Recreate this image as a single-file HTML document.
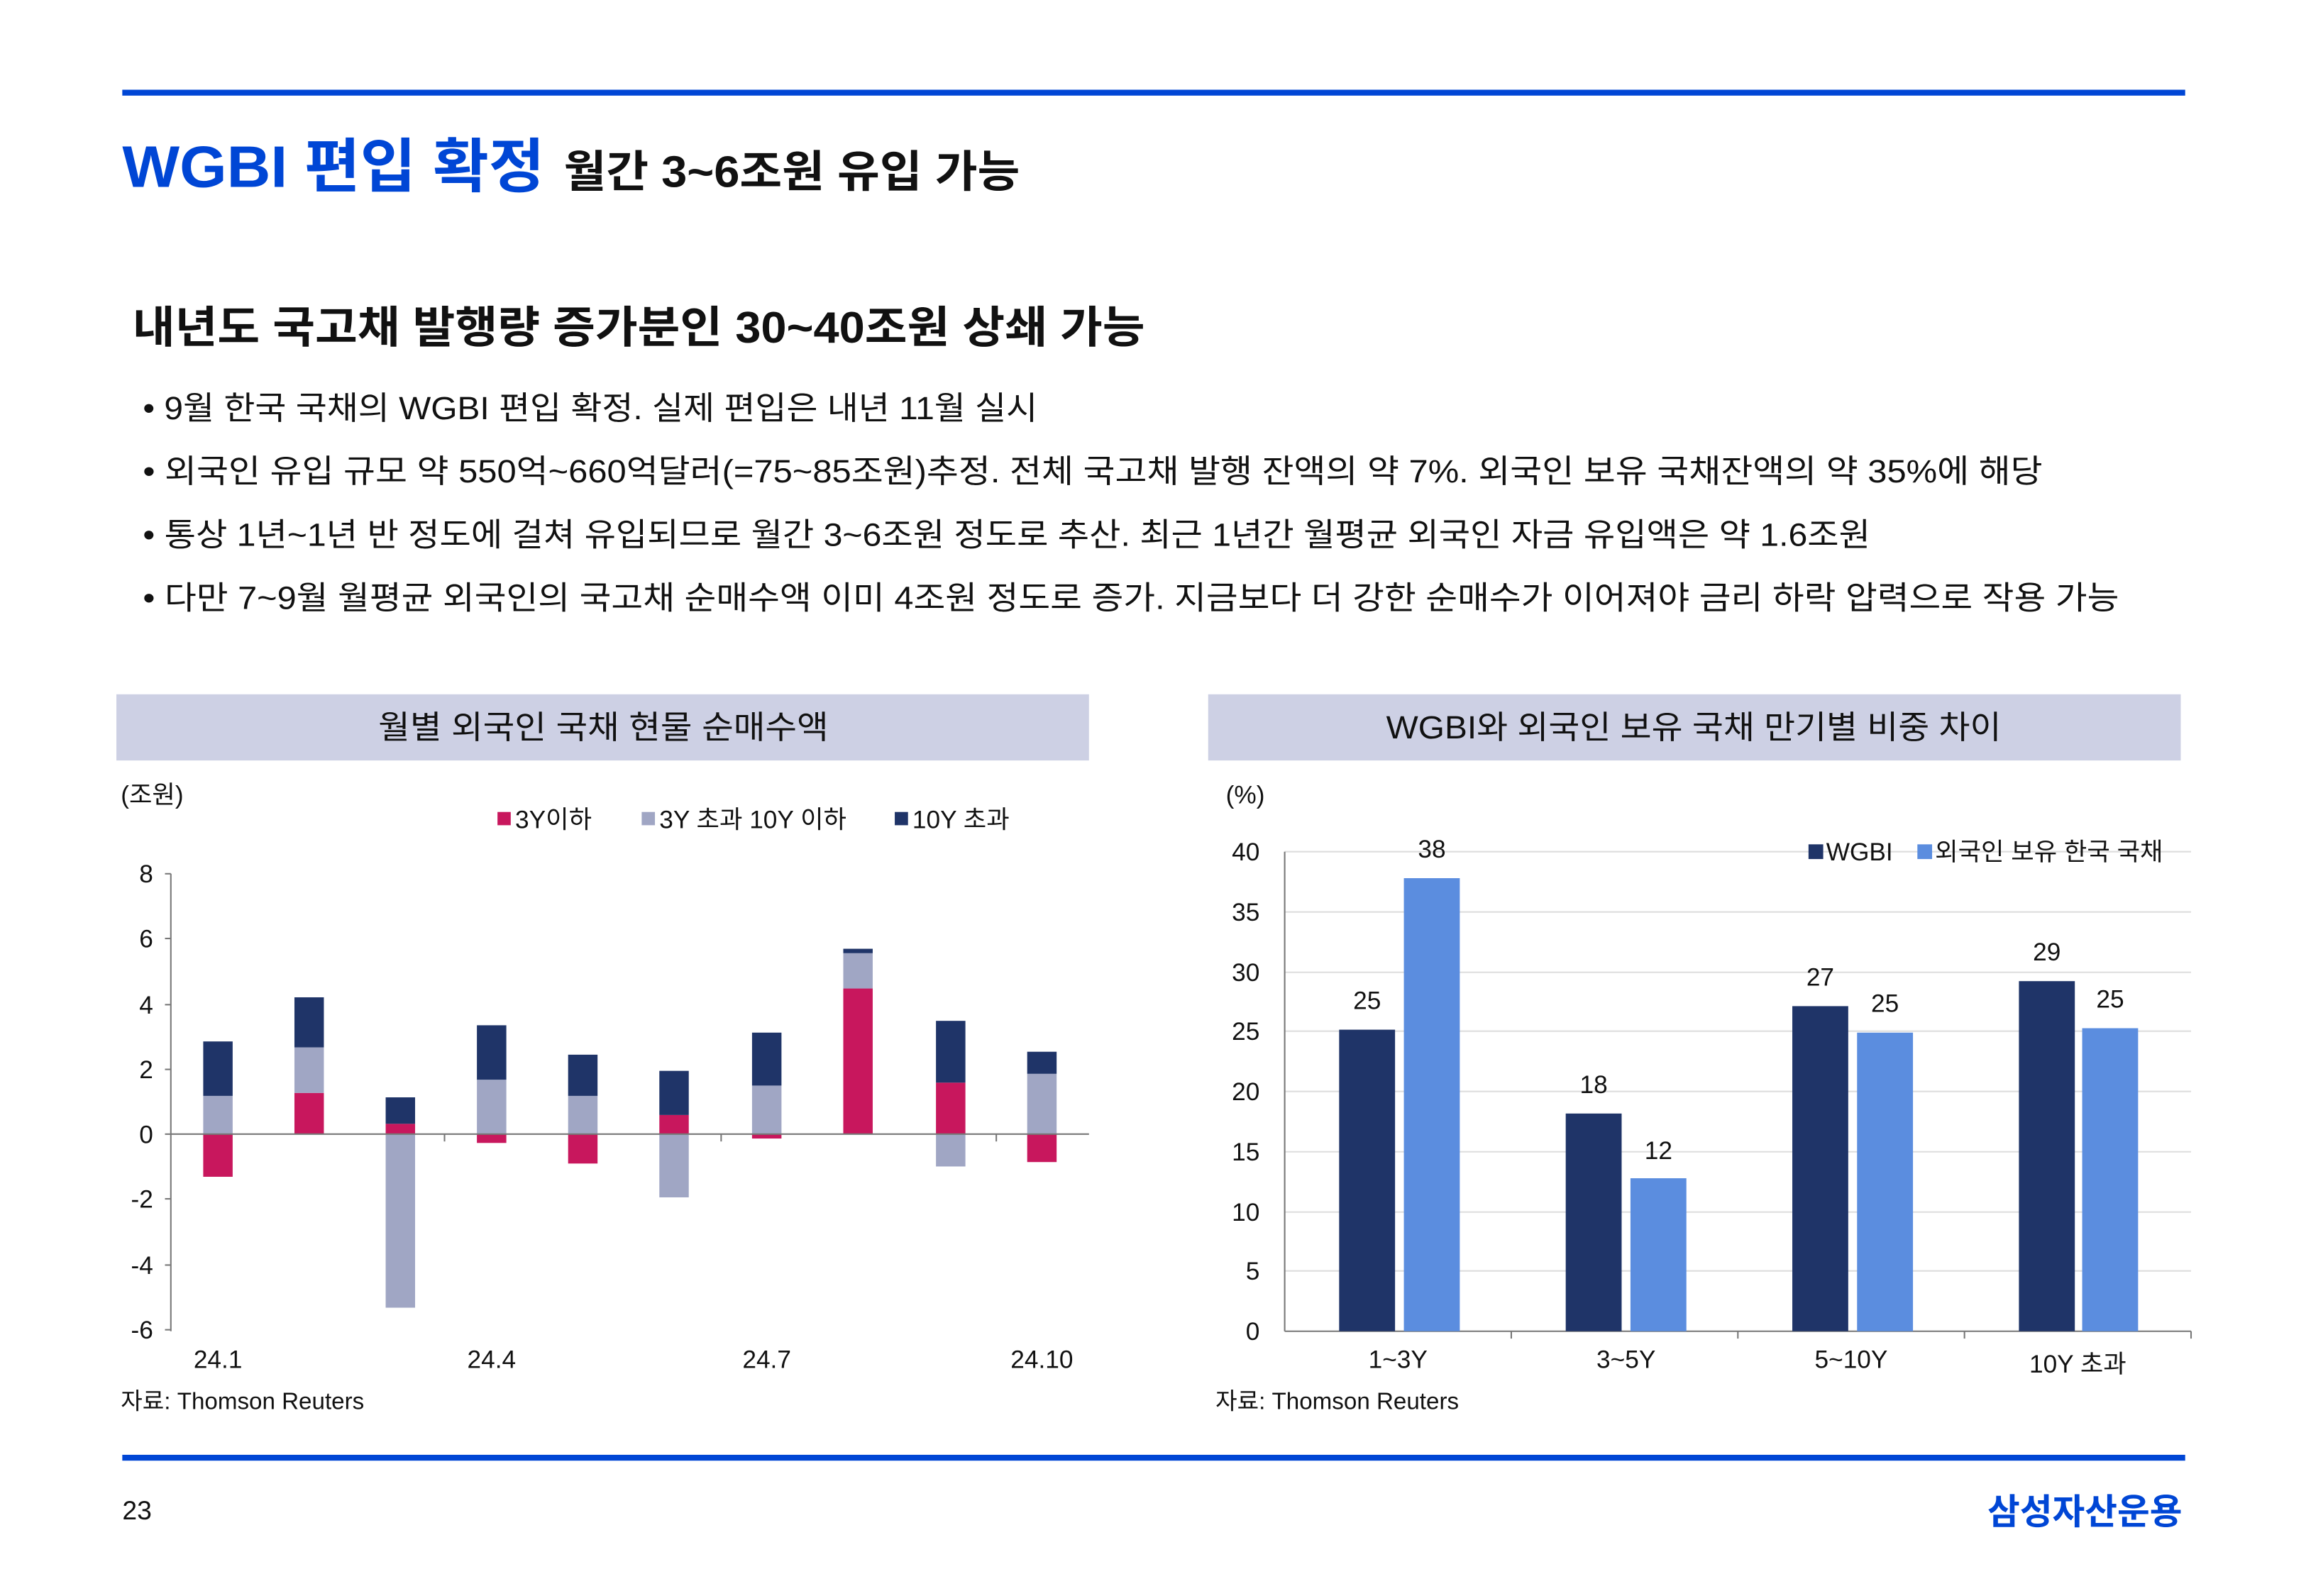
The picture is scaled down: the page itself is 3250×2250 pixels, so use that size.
<!DOCTYPE html>
<html><head><meta charset="utf-8"><style>
html,body{margin:0;padding:0;background:#fff;width:3250px;height:2250px;overflow:hidden}
svg{display:block}
text{font-family:"Liberation Sans","Noto Sans CJK KR",sans-serif;fill:#111}
</style></head><body>
<svg width="3250" height="2250" viewBox="0 0 1567 1085" xmlns="http://www.w3.org/2000/svg">
<rect x="83" y="61" width="1402" height="4" fill="#0046d5"/>
<text x="83" y="127" font-size="40" font-weight="bold" style="fill:#0046d5" textLength="287" lengthAdjust="spacingAndGlyphs">WGBI 편입 확정</text>
<text x="383" y="127" font-size="30" font-weight="bold" textLength="310" lengthAdjust="spacingAndGlyphs">월간 3~6조원 유입 가능</text>
<text x="90" y="233" font-size="30" font-weight="bold" textLength="688" lengthAdjust="spacingAndGlyphs">내년도 국고채 발행량 증가분인 30~40조원 상쇄 가능</text>
<g font-size="22">
<text x="97" y="285" textLength="608" lengthAdjust="spacingAndGlyphs">• 9월 한국 국채의 WGBI 편입 확정. 실제 편입은 내년 11월 실시</text>
<text x="97" y="328" textLength="1291" lengthAdjust="spacingAndGlyphs">• 외국인 유입 규모 약 550억~660억달러(=75~85조원)추정. 전체 국고채 발행 잔액의 약 7%. 외국인 보유 국채잔액의 약 35%에 해당</text>
<text x="97" y="371" textLength="1174" lengthAdjust="spacingAndGlyphs">• 통상 1년~1년 반 정도에 걸쳐 유입되므로 월간 3~6조원 정도로 추산. 최근 1년간 월평균 외국인 자금 유입액은 약 1.6조원</text>
<text x="97" y="414" textLength="1343" lengthAdjust="spacingAndGlyphs">• 다만 7~9월 월평균 외국인의 국고채 순매수액 이미 4조원 정도로 증가. 지금보다 더 강한 순매수가 이어져야 금리 하락 압력으로 작용 가능</text>
</g>
<rect x="79" y="472" width="661" height="45" fill="#cdd0e4"/>
<text x="410" y="502" font-size="22" text-anchor="middle" textLength="306" lengthAdjust="spacingAndGlyphs">월별 외국인 국채 현물 순매수액</text>
<rect x="821" y="472" width="661" height="45" fill="#cdd0e4"/>
<text x="1151" y="502" font-size="22" text-anchor="middle" textLength="418" lengthAdjust="spacingAndGlyphs">WGBI와 외국인 보유 국채 만기별 비중 차이</text>

<g font-size="17">
<text x="82" y="546">(조원)</text>
<rect x="338" y="552" width="9" height="9" fill="#c8175d"/><text x="350" y="563">3Y이하</text>
<rect x="436" y="552" width="9" height="9" fill="#a0a6c4"/><text x="448" y="563">3Y 초과 10Y 이하</text>
<rect x="608" y="552" width="9" height="9" fill="#1f3468"/><text x="620" y="563">10Y 초과</text>
<g text-anchor="end">
<text x="104" y="600">8</text><text x="104" y="644">6</text><text x="104" y="689">4</text><text x="104" y="733">2</text><text x="104" y="777">0</text><text x="104" y="821">-2</text><text x="104" y="866">-4</text><text x="104" y="910">-6</text>
</g>
<g text-anchor="middle">
<text x="148" y="930">24.1</text><text x="334" y="930">24.4</text><text x="521" y="930">24.7</text><text x="708" y="930">24.10</text>
</g>
<text x="82" y="958" font-size="16">자료:  Thomson Reuters</text>
</g>
<g stroke="#777" stroke-width="1">
<line x1="116" y1="594" x2="116" y2="905"/>
<line x1="112" y1="594" x2="116" y2="594"/><line x1="112" y1="638" x2="116" y2="638"/><line x1="112" y1="683" x2="116" y2="683"/><line x1="112" y1="727" x2="116" y2="727"/><line x1="112" y1="771" x2="116" y2="771"/><line x1="112" y1="815" x2="116" y2="815"/><line x1="112" y1="860" x2="116" y2="860"/><line x1="112" y1="904" x2="116" y2="904"/>
<line x1="302" y1="771" x2="302" y2="776"/><line x1="490" y1="771" x2="490" y2="776"/><line x1="677" y1="771" x2="677" y2="776"/>
</g>
<g>
<rect x="138" y="771" width="20" height="29" fill="#c8175d"/><rect x="138" y="745" width="20" height="26" fill="#a0a6c4"/><rect x="138" y="708" width="20" height="37" fill="#1f3468"/>
<rect x="200" y="743" width="20" height="28" fill="#c8175d"/><rect x="200" y="712" width="20" height="31" fill="#a0a6c4"/><rect x="200" y="678" width="20" height="34" fill="#1f3468"/>
<rect x="262" y="764" width="20" height="7" fill="#c8175d"/><rect x="262" y="771" width="20" height="118" fill="#a0a6c4"/><rect x="262" y="746" width="20" height="18" fill="#1f3468"/>
<rect x="324" y="771" width="20" height="6" fill="#c8175d"/><rect x="324" y="734" width="20" height="37" fill="#a0a6c4"/><rect x="324" y="697" width="20" height="37" fill="#1f3468"/>
<rect x="386" y="771" width="20" height="20" fill="#c8175d"/><rect x="386" y="745" width="20" height="26" fill="#a0a6c4"/><rect x="386" y="717" width="20" height="28" fill="#1f3468"/>
<rect x="448" y="758" width="20" height="13" fill="#c8175d"/><rect x="448" y="771" width="20" height="43" fill="#a0a6c4"/><rect x="448" y="728" width="20" height="30" fill="#1f3468"/>
<rect x="511" y="771" width="20" height="3" fill="#c8175d"/><rect x="511" y="738" width="20" height="33" fill="#a0a6c4"/><rect x="511" y="702" width="20" height="36" fill="#1f3468"/>
<rect x="573" y="672" width="20" height="99" fill="#c8175d"/><rect x="573" y="648" width="20" height="24" fill="#a0a6c4"/><rect x="573" y="645" width="20" height="3" fill="#1f3468"/>
<rect x="636" y="736" width="20" height="35" fill="#c8175d"/><rect x="636" y="771" width="20" height="22" fill="#a0a6c4"/><rect x="636" y="694" width="20" height="42" fill="#1f3468"/>
<rect x="698" y="771" width="20" height="19" fill="#c8175d"/><rect x="698" y="730" width="20" height="41" fill="#a0a6c4"/><rect x="698" y="715" width="20" height="15" fill="#1f3468"/>
</g>
<line x1="116" y1="771" x2="740" y2="771" stroke="#777" stroke-width="1"/>

<g stroke="#ddd" stroke-width="1">
<line x1="873" y1="579" x2="1489" y2="579"/><line x1="873" y1="620" x2="1489" y2="620"/><line x1="873" y1="661" x2="1489" y2="661"/><line x1="873" y1="701" x2="1489" y2="701"/><line x1="873" y1="742" x2="1489" y2="742"/><line x1="873" y1="783" x2="1489" y2="783"/><line x1="873" y1="824" x2="1489" y2="824"/><line x1="873" y1="864" x2="1489" y2="864"/>
</g>
<g stroke="#777" stroke-width="1">
<line x1="873" y1="579" x2="873" y2="905"/><line x1="873" y1="905" x2="1489" y2="905"/>
<line x1="1027" y1="905" x2="1027" y2="910"/><line x1="1181" y1="905" x2="1181" y2="910"/><line x1="1335" y1="905" x2="1335" y2="910"/><line x1="1489" y1="905" x2="1489" y2="910"/>
</g>
<g font-size="17">
<text x="833" y="546">(%)</text>
<g text-anchor="end">
<text x="856" y="585">40</text><text x="856" y="626">35</text><text x="856" y="667">30</text><text x="856" y="707">25</text><text x="856" y="748">20</text><text x="856" y="789">15</text><text x="856" y="830">10</text><text x="856" y="870">5</text><text x="856" y="911">0</text>
</g>
<rect x="1229" y="574" width="10" height="10" fill="#1f3468"/><text x="1241" y="585">WGBI</text>
<rect x="1303" y="574" width="10" height="10" fill="#5b8ddf"/><text x="1315" y="585">외국인 보유 한국 국채</text>
<g text-anchor="middle">
<text x="950" y="930">1~3Y</text><text x="1105" y="930">3~5Y</text><text x="1258" y="930">5~10Y</text><text x="1412" y="933">10Y 초과</text>
<text x="929" y="686">25</text><text x="973" y="583">38</text>
<text x="1083" y="743">18</text><text x="1127" y="788">12</text>
<text x="1237" y="670">27</text><text x="1281" y="688">25</text>
<text x="1391" y="653">29</text><text x="1434" y="685">25</text>
</g>
<text x="826" y="958" font-size="16">자료:  Thomson Reuters</text>
</g>
<g>
<rect x="910" y="700" width="38" height="205" fill="#1f3468"/><rect x="954" y="597" width="38" height="308" fill="#5b8ddf"/>
<rect x="1064" y="757" width="38" height="148" fill="#1f3468"/><rect x="1108" y="801" width="38" height="104" fill="#5b8ddf"/>
<rect x="1218" y="684" width="38" height="221" fill="#1f3468"/><rect x="1262" y="702" width="38" height="203" fill="#5b8ddf"/>
<rect x="1372" y="667" width="38" height="238" fill="#1f3468"/><rect x="1415" y="699" width="38" height="206" fill="#5b8ddf"/>
</g>

<rect x="83" y="989" width="1402" height="4" fill="#0046d5"/>
<text x="83" y="1033" font-size="18">23</text>
<text x="1483" y="1036" font-size="24" font-weight="bold" text-anchor="end" style="fill:#0046d5">삼성자산운용</text>
</svg>
</body></html>
